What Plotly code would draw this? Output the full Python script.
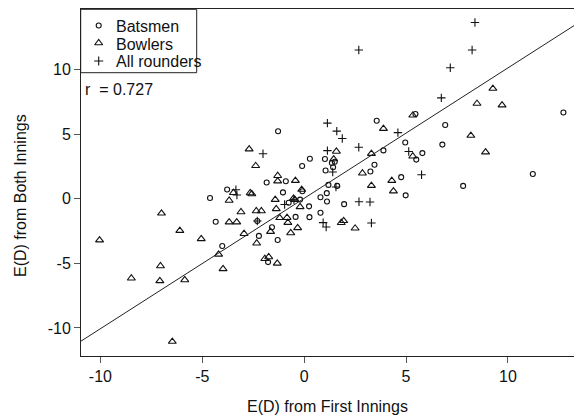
import plotly.graph_objects as go

# ---------------- data ----------------
bat_x = [-1.28, 12.72, 3.56, 5.46, 6.92, 4.96, 6.78, 5.80, 5.50, 3.89, 3.45, 3.25, 4.76, 4.98, 7.80,
         11.22, 0.28, -0.10, 1.02, 1.05, 1.36, 1.50, 1.42, 1.19, 1.62, 1.11, 0.80, 1.12, 1.96, 0.24,
         0.80, 0.26, -0.09, -0.20, -0.42, -0.76, -0.90, -1.84, -1.04, -1.30, -1.58, -2.22, -2.30,
         -1.77, -3.78, -4.62, -4.34, -4.02]
bat_y = [5.23, 6.69, 6.05, 6.57, 5.72, 4.36, 4.20, 3.54, 3.04, 3.75, 2.64, 2.12, 1.68, 0.27, 1.00,
         1.92, 3.10, 2.54, 3.08, 2.20, 2.77, 2.87, 2.45, 1.08, 1.00, 0.44, 0.12, -0.21, -0.41, -0.58,
         -1.08, -1.42, 0.59, -0.06, -1.40, -0.30, 1.36, 1.27, 0.50, -3.19, -2.20, -2.87, -1.72,
         -4.90, 0.72, 0.06, -1.78, -3.65]

bowl_x = [-10.04, -8.48, -7.05, -7.08, -7.00, -6.47, -6.10, -5.86, -5.05, -4.20, -3.98, -3.68, -3.68,
          -3.31, -3.47, -3.10, -2.95, -2.70, -2.65, -2.57, -2.38, -2.35, -2.10, -2.33, -1.93, -1.74,
          -1.32, -1.65, -1.42, -1.37, -1.30, -1.30, -1.20, -0.84, -0.80, -0.66, -0.32, -0.43, -0.52,
          -0.46, -0.20, -0.12, 1.45, 1.58, 1.82, 1.94, 2.50, 2.86, 3.30, 3.30, 3.89, 4.30, 4.38,
          5.33, 5.33, 8.18, 8.48, 8.90, 9.26, 9.71]
bowl_y = [-3.20, -6.15, -5.20, -6.35, -1.12, -11.05, -2.46, -6.28, -3.10, -4.30, -5.42, -0.13, -1.80,
          -1.80, 0.47, -1.02, -2.70, 3.85, 0.45, 0.38, 2.56, -0.94, -0.94, -3.44, -4.64, -4.50,
          -5.00, -2.54, -0.06, -0.78, 1.79, 1.37, -1.47, -1.46, -1.84, -2.64, -2.25, 1.41, 0.04,
          -0.06, -0.62, 0.72, 3.08, 3.67, -1.85, -1.70, -2.28, 1.98, 3.50, 1.02, 5.44, 1.41, 0.60,
          6.47, 3.30, 4.90, 7.38, 3.62, 8.54, 7.26]

allr_x = [8.38, 2.68, 8.24, 7.17, 6.73, 1.14, 1.60, 1.87, 4.60, 2.68, 1.14, 5.13, 1.40, 5.76, 1.56,
          2.69, 3.23, 3.30, 0.93, 1.08, -2.02, -3.35, -3.30, -2.30, -0.96, -0.50]
allr_y = [13.65, 11.52, 11.52, 10.15, 7.82, 5.86, 5.24, 4.67, 5.13, 4.00, 3.73, 3.67, 2.08, 1.86, 0.92,
          -0.22, -0.24, -1.87, -1.84, -2.18, 3.49, 0.70, 0.30, -1.72, -0.44, -0.08]

fit_slope = 1.01
fit_intercept = 0.04
r_value = 0.727

x_ticks = [-10, -5, 0, 5, 10]
x_ticktext = ["-10", "-5", "0", "5", "10"]
y_ticks = [-10, -5, 0, 5, 10]
y_ticktext = ["-10", "-5", "0", "5", "10"]
x_range = [-10.95, 13.24]
y_range = [-12.17, 14.7]

series_names = ["Batsmen", "Bowlers", "All rounders"]

# ---------------- layout geometry (pixels) ----------------
W, H = 574, 419
ML, MR, MT, MB = 81, 0, 9, 63
PW = W - ML - MR
PH = H - MT - MB
FONT = "Liberation Sans, Arial, sans-serif"
INK = "#111111"


def px(xp):
    return (xp - ML) / PW


def py(yp):
    return (H - MB - yp) / PH


fig = go.Figure()

marker_line = dict(color=INK, width=1.1)
fig.add_trace(go.Scatter(x=bat_x, y=bat_y, mode="markers", name=series_names[0], showlegend=False,
                         marker=dict(symbol="circle-open", size=5, color=INK, line=marker_line)))
fig.add_trace(go.Scatter(x=bowl_x, y=bowl_y, mode="markers", name=series_names[1], showlegend=False,
                         marker=dict(symbol="triangle-up-open", size=7, color=INK, line=marker_line)))
fig.add_trace(go.Scatter(x=allr_x, y=allr_y, mode="markers", name=series_names[2], showlegend=False,
                         marker=dict(symbol="cross-thin-open", size=6, color=INK, line=marker_line)))

# fitted line across the x range
fx = [x_range[0], x_range[1]]
fy = [fit_slope * v + fit_intercept for v in fx]
fig.add_trace(go.Scatter(x=fx, y=fy, mode="lines", showlegend=False, hoverinfo="skip",
                         line=dict(color="#222222", width=1)))

# legend symbols drawn on a hidden pixel-space overlay axis
leg_sym_x = [98.7, 98.7, 98.7]
leg_sym_y = [25.5, 43.0, 61.0]
leg_symbols = ["circle-open", "triangle-up-open", "cross-thin-open"]
leg_sizes = [5, 7, 6.5]
for sx, sy, sym, sz in zip(leg_sym_x, leg_sym_y, leg_symbols, leg_sizes):
    fig.add_trace(go.Scatter(x=[sx], y=[sy], xaxis="x2", yaxis="y2", mode="markers",
                             showlegend=False, hoverinfo="skip",
                             marker=dict(symbol=sym, size=sz, color=INK, line=marker_line)))

annotations = []
leg_text_y = [26.5, 44.0, 61.5]
for name, ty in zip(series_names, leg_text_y):
    annotations.append(dict(text=name, xref="paper", yref="paper", x=px(114), y=py(ty),
                            xanchor="left", yanchor="middle", showarrow=False,
                            font=dict(family=FONT, size=16, color=INK)))
annotations.append(dict(text="r  = %.3f" % r_value, xref="paper", yref="paper", x=px(83), y=py(89),
                        xanchor="left", yanchor="middle", showarrow=False,
                        font=dict(family=FONT, size=16, color=INK)))
annotations.append(dict(text="E(D) from First Innings", xref="paper", yref="paper", x=px(327), y=py(407),
                        xanchor="center", yanchor="middle", showarrow=False,
                        font=dict(family=FONT, size=16, color=INK)))
annotations.append(dict(text="E(D) from Both Innings", xref="paper", yref="paper", x=px(20), y=py(196),
                        xanchor="center", yanchor="middle", showarrow=False, textangle=-90,
                        font=dict(family=FONT, size=16, color=INK)))

shapes = [dict(type="rect", xref="paper", yref="paper", x0=px(80.7), x1=px(196.7), y0=py(72.7), y1=py(9.3),
               line=dict(color="#222222", width=1), fillcolor="rgba(0,0,0,0)")]

axis_common = dict(showgrid=False, zeroline=False, showline=True, linecolor="#222222", linewidth=1,
                   ticks="outside", ticklen=6, tickwidth=1, tickcolor="#555555",
                   tickfont=dict(family=FONT, size=16, color=INK))

fig.update_layout(
    width=W, height=H,
    margin=dict(l=ML, r=MR, t=MT, b=MB, pad=0),
    paper_bgcolor="white", plot_bgcolor="white",
    xaxis=dict(range=x_range, tickvals=x_ticks, ticktext=x_ticktext, mirror=True, **axis_common),
    yaxis=dict(range=y_range, tickvals=y_ticks, ticktext=y_ticktext, mirror=False, **axis_common),
    xaxis2=dict(overlaying="x", range=[ML, W - MR], visible=False, fixedrange=True),
    yaxis2=dict(overlaying="y", range=[H - MB, MT], visible=False, fixedrange=True),
    annotations=annotations,
    shapes=shapes,
    showlegend=False,
)

fig.write_html("out.html")
